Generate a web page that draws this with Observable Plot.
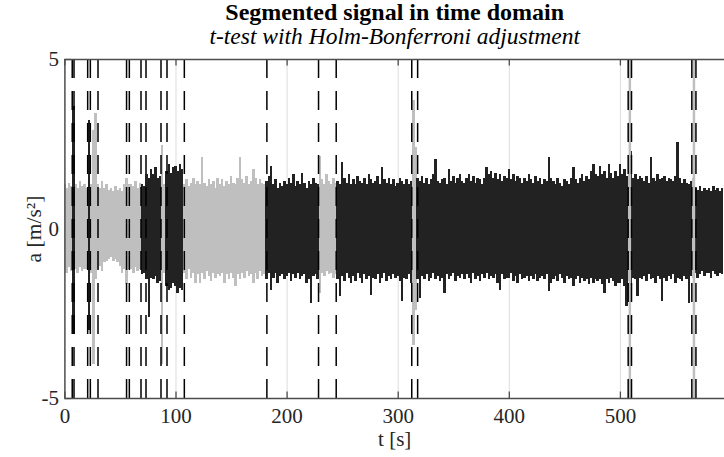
<!DOCTYPE html>
<html>
<head>
<meta charset="utf-8">
<script src="https://cdn.jsdelivr.net/npm/d3@7"></script>
<script src="https://cdn.jsdelivr.net/npm/@observablehq/plot@0.6"></script>
<style>
  html, body { margin: 0; padding: 0; background: #fff; }
  #chart { width: 724px; height: 457px; }
</style>
</head>
<body>
<div id="chart"></div>
<script>
// Envelope of the acceleration record, one sample every 2 s (upper / lower peak, m/s^2)
const sampleStep = 2;
const upperPeak = [
  1.3, 1.2, 1.35, 1.25, 3.6, 1.3, 1.2, 1.4, 1.25, 1.3,
  1.2, 3.2, 1.3, 2.9, 3.4, 1.3, 1.2, 1.4, 1.2, 1.3,
  1.15, 1.2, 1.1, 1.25, 1.15, 1.2, 1.1, 1.3, 1.5, 1.3,
  1.3, 1.25, 1.4, 1.2, 1.35, 1.3, 1.25, 1.6, 1.5, 1.75,
  1.6, 1.8, 1.5, 1.55, 2.45, 1.3, 1.7, 1.9, 1.65, 1.8,
  1.85, 1.7, 1.9, 1.75, 1.3, 1.45, 1.25, 1.35, 1.5, 1.3,
  1.4, 1.3, 2.1, 1.35, 1.25, 1.45, 1.3, 1.4, 1.2, 1.5,
  1.3, 1.45, 1.25, 1.4, 1.3, 1.55, 1.35, 1.3, 1.5, 2.1,
  1.45, 1.35, 1.55, 1.3, 1.4, 1.75, 1.5, 1.3, 1.45, 1.35,
  1.3, 1.4, 1.55, 1.85, 1.3, 1.45, 1.2, 1.35, 1.25, 1.4,
  1.3, 1.5, 1.35, 1.6, 1.25, 1.4, 1.3, 1.65, 1.35, 1.2,
  1.4, 1.3, 1.5, 1.35, 1.3, 2.15, 1.45, 1.3, 1.6, 1.4,
  1.3, 1.5, 1.35, 1.4, 1.3, 1.95, 1.5, 1.35, 1.6, 1.3,
  1.45, 1.3, 1.55, 1.4, 1.35, 1.5, 1.3, 1.6, 1.45, 1.35,
  1.4, 1.55, 1.3, 1.8, 1.45, 1.35, 1.5, 1.3, 1.45, 1.25,
  1.35, 1.5, 1.4, 1.3, 1.45, 1.3, 1.4, 3.8, 2.4, 1.5,
  1.4, 1.55, 1.35, 1.5, 1.3, 1.45, 1.6, 2.05, 1.4, 1.35,
  1.45, 1.5, 1.3, 1.75, 1.4, 1.55, 1.35, 1.5, 1.6, 1.4,
  1.35, 1.5, 1.6, 1.4, 1.55, 1.35, 1.5, 1.45, 1.3, 1.5,
  1.8, 1.6, 1.7, 1.5, 1.65, 1.45, 1.6, 1.4, 1.55, 1.5,
  1.75, 1.45, 1.6, 1.4, 1.55, 1.5, 1.35, 1.5, 1.4, 1.6,
  1.45, 1.35, 1.55, 1.4, 1.5, 1.3, 1.45, 1.4, 2.1, 1.5,
  1.4, 1.3, 1.5, 1.35, 1.25, 1.45, 1.4, 1.3, 1.5, 1.8,
  1.45, 1.35, 1.5, 1.6, 1.4, 1.55, 1.45, 1.7, 1.9, 1.6,
  1.55, 1.85, 1.6, 1.7, 1.5, 1.9, 1.65, 1.5, 1.7, 1.55,
  1.9, 1.6, 1.75, 1.55, 1.7, 2.3, 1.5, 1.6, 1.45, 1.55,
  1.5, 1.4, 1.55, 1.35, 2.1, 1.5, 1.4, 1.6, 1.45, 1.5,
  1.55, 1.4, 1.5, 1.45, 1.4, 1.55, 2.55, 1.5, 1.35, 1.45,
  1.35, 1.3, 1.4, 1.5, 1.2, 1.15, 1.25, 1.1, 1.2, 1.15,
  1.2, 1.1, 1.25, 1.15, 1.2, 1.1, 1.2
];
const lowerPeak = [
  -1.2, -1.3, -1.15, -1.25, -3.1, -1.2, -1.3, -1.15, -1.25, -1.2,
  -1.2, -3.0, -1.3, -4.0, -1.5, -1.2, -1.1, -1.25, -1.0, -0.95,
  -0.9, -0.85, -0.95, -0.9, -1.0, -1.1, -1.3, -1.2, -1.65, -1.2,
  -1.2, -1.3, -1.15, -1.25, -1.2, -1.35, -1.3, -1.5, -2.6, -1.45,
  -1.5, -1.4, -1.6, -1.55, -4.0, -1.3, -1.7, -1.8, -1.75, -1.6,
  -1.7, -1.9, -1.75, -1.8, -1.3, -1.5, -1.2, -1.45, -1.3, -1.6,
  -1.35, -1.6, -1.3, -1.5, -1.25, -1.4, -1.55, -1.3, -1.45, -1.35,
  -1.4, -1.3, -1.6, -1.35, -1.5, -1.3, -1.45, -1.7, -1.35, -1.5,
  -1.3, -1.45, -1.25, -1.4, -1.35, -1.6, -1.3, -1.5, -1.25, -1.4,
  -1.35, -1.5, -1.3, -1.8, -1.45, -1.3, -1.6, -1.4, -1.35, -1.5,
  -1.4, -1.3, -1.55, -1.35, -1.45, -1.3, -1.5, -1.4, -1.35, -1.6,
  -1.5, -2.2, -1.4, -1.35, -1.5, -1.9, -1.3, -1.4, -1.25, -1.35,
  -1.3, -1.45, -1.35, -1.5, -2.0, -1.4, -1.55, -1.3, -1.45, -1.6,
  -1.4, -1.55, -1.3, -1.45, -1.6, -1.35, -1.5, -1.4, -1.95, -1.45,
  -1.5, -1.35, -1.6, -1.45, -1.3, -1.55, -1.4, -1.5, -1.35, -1.45,
  -1.4, -1.55, -2.15, -1.45, -1.5, -1.35, -1.6, -3.45, -2.4, -1.5,
  -2.05, -1.4, -1.5, -1.35, -1.55, -1.45, -1.3, -1.5, -1.4, -1.55,
  -1.45, -1.9, -1.35, -1.5, -1.4, -1.3, -1.55, -1.4, -1.45, -1.35,
  -1.5, -1.35, -1.45, -1.6, -1.3, -1.5, -1.4, -1.55, -1.35, -1.45,
  -1.3, -1.5, -1.4, -1.45, -1.35, -1.6, -1.8, -1.35, -1.5, -1.45,
  -1.45, -1.3, -1.55, -1.4, -1.6, -1.35, -1.5, -1.45, -1.4, -1.55,
  -1.4, -1.5, -1.35, -1.55, -1.45, -1.4, -1.5, -1.35, -1.85, -1.6,
  -1.5, -1.4, -1.55, -1.35, -1.45, -1.6, -1.4, -1.5, -1.45, -1.7,
  -1.5, -1.4, -1.6, -1.45, -1.55, -1.5, -1.65, -1.45, -1.6, -1.5,
  -1.55, -1.5, -1.65, -1.9, -1.5, -1.6, -1.45, -1.55, -1.7, -1.6,
  -1.6, -1.5, -1.7, -2.3, -1.55, -1.6, -1.45, -1.5, -2.0, -1.45,
  -1.5, -1.4, -1.55, -1.35, -1.5, -1.45, -1.6, -1.4, -1.5, -2.15,
  -1.45, -1.55, -1.4, -1.5, -1.35, -1.6, -1.45, -1.5, -1.55, -1.4,
  -1.5, -2.2, -1.4, -1.45, -1.3, -1.45, -1.35, -1.25, -1.4, -1.3,
  -1.3, -1.45, -1.25, -1.35, -1.4, -1.3, -1.35
];

// Change points found by the t-test (s)
const changePoints = [6.6, 8.2, 20.5, 22.9, 29.8, 55.5, 58, 68.5, 73, 86.5, 91.9,
  107.5, 181.8, 228.3, 244.2, 312.2, 317.5, 507, 510, 564.3, 568];
// Class of each segment between change points (light = grey, dark = black)
const segmentClass = ["light", "dark", "light", "dark", "light", "light", "light", "light",
  "dark", "dark", "light", "dark", "light", "dark", "light", "dark", "light", "dark",
  "light", "dark", "light", "dark"];
// Short grey segments marked over the full height
const greyMarkers = [508.5, 566.2];

const xTicks = [0, 100, 200, 300, 400, 500];
const yTicks = [-5, 0, 5];
const tMax = 593.7;

const samples = upperPeak.map((hi, i) => {
  const t = i * sampleStep;
  return { t, hi, lo: lowerPeak[i], cls: segmentClass[d3.bisectRight(changePoints, t)] };
});

const light = "#bfbfbf", dark = "#222222", axisColor = "#4d4d4d";
const half = sampleStep / 2 + 0.15;
const tickLenY = 0.19;   // inward tick length in y units
const tickLenX = 5.8;    // inward tick length in x units

const envelope = (data, fill) => Plot.rect(data, {
  x1: d => d.t - half, x2: d => d.t + half, y1: "lo", y2: "hi",
  fill, inset: 0, shapeRendering: "crispEdges", clip: true
});

const chart = Plot.plot({
  width: 724,
  height: 457,
  marginLeft: 64.4,
  marginRight: 0,
  marginTop: 59,
  marginBottom: 59,
  style: { fontFamily: "'Liberation Serif', 'Times New Roman', serif", background: "#fff" },
  x: { domain: [0, tMax], axis: null },
  y: { domain: [-5, 5], axis: null },
  marks: [
    // vertical grid
    Plot.ruleX(xTicks.filter(d => d > 0), { y1: -5, y2: 5, stroke: "#dcdcdc", strokeWidth: 1 }),
    // inward ticks
    Plot.ruleX(xTicks, { y1: -5, y2: -5 + tickLenY, stroke: axisColor, strokeWidth: 1.3 }),
    Plot.ruleX(xTicks, { y1: 5, y2: 5 - tickLenY, stroke: axisColor, strokeWidth: 1.3 }),
    Plot.ruleY(yTicks, { x1: 0, x2: tickLenX, stroke: axisColor, strokeWidth: 1.3 }),
    // signal envelope, coloured by segment class
    envelope(samples.filter(d => d.cls === "light"), light),
    envelope(samples.filter(d => d.cls === "dark"), dark),
    Plot.ruleX(greyMarkers, { y1: 5, y2: -5, stroke: light, strokeWidth: 2.5 }),
    // change points
    Plot.ruleX(changePoints, { y1: 5, y2: -5, stroke: "#000", strokeWidth: 1.5, strokeDasharray: "19,13" }),
    // frame
    Plot.ruleY([5, -5], { stroke: axisColor, strokeWidth: 1.5 }),
    Plot.ruleX([0], { y1: -5, y2: 5, stroke: axisColor, strokeWidth: 1.5 }),
    // tick labels
    Plot.text(xTicks, { x: d => d, y: -5, text: d => String(d), lineAnchor: "top", dy: 9.5,
      fontSize: 21, fill: "#262626" }),
    Plot.text(yTicks, { x: 0, y: d => d, text: d => String(d), textAnchor: "end", dx: -6,
      lineAnchor: "middle", fontSize: 21, fill: "#262626" }),
    // axis labels
    Plot.text(["t [s]"], { frameAnchor: "bottom", text: d => d, lineAnchor: "bottom", dy: 47.5,
      fontSize: 21, fill: "#262626" }),
    Plot.text(["a [m/s²]"], { frameAnchor: "left", text: d => d, rotate: -90, textAnchor: "middle",
      lineAnchor: "bottom", dx: -24, fontSize: 21.5, fill: "#262626" }),
    // title and subtitle
    Plot.text(["Segmented signal in time domain"], { frameAnchor: "top", text: d => d,
      lineAnchor: "bottom", dy: -40, fontSize: 24, fontWeight: "bold", fill: "#000" }),
    Plot.text(["t-test with Holm-Bonferroni adjustment"], { frameAnchor: "top", text: d => d,
      lineAnchor: "bottom", dy: -16, fontSize: 23.5, fontStyle: "italic", fill: "#000" })
  ]
});

document.getElementById("chart").append(chart);
</script>
</body>
</html>
